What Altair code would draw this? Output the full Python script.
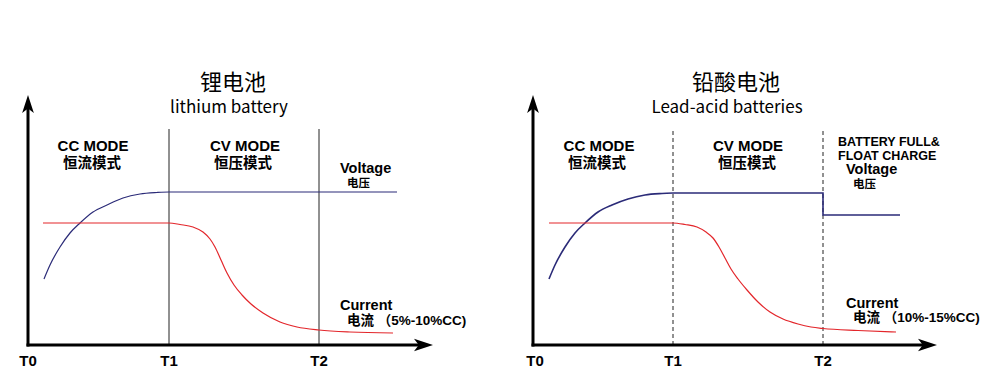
import altair as alt
import pandas as pd

# ---------------- data (time units: T0=0, T1=14, T2=29; relative level units) ----------------
T_NAMES = ["T0", "T1", "T2"]
LI_T_POS = [0.0, 14.1, 29.1]
PB_T_POS = [0.2, 14.0, 29.0]

# lithium battery
LI_V_X = [1.6, 2.2, 3.2, 4.2, 5.2, 6.5, 7.9, 9.5, 11.2, 12.9, 14.1, 36.9]
LI_V_Y = [6.6, 8.0, 9.8, 11.2, 12.2, 13.3, 14.0, 14.7, 15.1, 15.25, 15.3, 15.3]
LI_I_X = [1.5, 14.1, 15.2, 16.5, 17.5, 18.2, 18.7, 19.3, 19.9, 20.6, 21.4, 22.3, 23.5, 25.2,
          26.9, 29.1, 32.2, 36.5]
LI_I_Y = [12.2, 12.2, 12.05, 11.8, 11.3, 10.6, 9.8, 8.5, 7.2, 6.0, 5.0, 4.1, 3.2, 2.3,
          1.8, 1.5, 1.3, 1.2]

# lead-acid batteries
PB_V_X = [1.6, 2.2, 3.2, 4.2, 5.2, 6.5, 7.9, 9.5, 11.2, 12.9, 14.0]
PB_V_Y = [6.6, 8.0, 9.8, 11.2, 12.2, 13.3, 14.0, 14.6, 15.0, 15.15, 15.2]
PB_VSTEP_X = [14.0, 29.0, 29.0, 36.7]
PB_VSTEP_Y = [15.2, 15.2, 13.0, 13.0]
PB_I_X = [1.6, 14.0, 15.2, 16.4, 17.3, 18.0, 18.6, 19.2, 19.8, 20.5, 21.4, 22.5, 23.7, 25.0,
          26.5, 27.8, 29.0, 32.5, 36.3]
PB_I_Y = [12.2, 12.2, 12.05, 11.8, 11.3, 10.7, 9.8, 8.7, 7.6, 6.6, 5.5, 4.3, 3.3, 2.6,
          2.1, 1.8, 1.65, 1.45, 1.3]

LI_TITLE = ["锂电池", "lithium battery"]
PB_TITLE = ["铅酸电池", "Lead-acid batteries"]
MODES = ["CC MODE", "恒流模式", "CV MODE", "恒压模式"]
LI_RIGHT = ["Voltage", "电压", "Current", "电流 （5%-10%CC)"]
PB_RIGHT = ["Voltage", "电压", "Current", "电流 （10%-15%CC)"]
PB_FULL = ["BATTERY FULL&", "FLOAT CHARGE"]

# text anchor positions (time, level)
LI_TITLE_POS = [(20.5, 26.2), (20.1, 23.7)]
PB_TITLE_POS = [(20.3, 26.2), (19.4, 23.7)]
LI_MODE_POS = [(6.5, 19.9), (6.4, 18.1), (21.7, 19.9), (21.5, 18.1)]
PB_MODE_POS = [(6.6, 19.9), (6.4, 18.1), (21.5, 19.9), (21.4, 18.1)]
LI_RIGHT_POS = [(31.2, 17.6), (31.9, 16.15), (31.2, 3.9), (31.9, 2.45)]
PB_RIGHT_POS = [(31.3, 17.5), (32.0, 16.05), (31.3, 4.1), (32.0, 2.7)]
PB_FULL_POS = [(30.5, 20.35), (30.5, 18.95)]

V_COLOR = "#2b2b78"
I_COLOR = "#e3262b"
BOLD_FONT = "Liberation Sans, Noto Sans CJK SC"
CJK_FONT = "Noto Sans CJK SC"

W, H = 492, 375
Y_DOM = [-3.8, 33.7]


def panel(x_dom, t_pos, v_x, v_y, i_x, i_y, title, title_pos, mode_pos, right, right_pos,
          dashed, x_tip, v_width, vstep=None, full=None):
    xs = alt.Scale(domain=x_dom, nice=False, zero=False)
    ys = alt.Scale(domain=Y_DOM, nice=False, zero=False)
    X = lambda f: alt.X(f, type="quantitative", scale=xs, axis=None)
    Y = lambda f: alt.Y(f, type="quantitative", scale=ys, axis=None)

    layers = []
    # vertical time markers
    vl = pd.DataFrame({"x": t_pos[1:], "y": [0, 0], "y2": [21.6, 21.6]})
    layers.append(alt.Chart(vl).mark_rule(color="#222", strokeWidth=1,
                                            strokeDash=[4, 3] if dashed else [1, 0])
                  .encode(x=X("x"), y=Y("y"), y2="y2"))
    # axes lines
    ax = pd.DataFrame({"x": [0, 0], "x2": [x_tip - 1.5, 0], "y": [0, 0], "y2": [0, 23.6]})
    layers.append(alt.Chart(ax).mark_rule(color="black", strokeWidth=3, strokeCap="square")
                  .encode(x=X("x"), x2="x2", y=Y("y"), y2="y2"))
    # arrow heads
    arx = pd.DataFrame({"x": [x_tip - 0.95], "y": [0]})
    layers.append(alt.Chart(arx).mark_point(shape="M1,0L-1,-0.65L-0.5,0L-1,0.65Z", size=361,
                                             filled=True, color="black", opacity=1)
                  .encode(x=X("x"), y=Y("y")))
    ary = pd.DataFrame({"x": [0], "y": [24.1]})
    layers.append(alt.Chart(ary).mark_point(shape="M0,-1L-0.65,1L0,0.5L0.65,1Z", size=324,
                                             filled=True, color="black", opacity=1)
                  .encode(x=X("x"), y=Y("y")))
    # voltage curve
    vd = pd.DataFrame({"x": v_x, "y": v_y})
    layers.append(alt.Chart(vd).mark_line(color=V_COLOR, strokeWidth=v_width,
                                          interpolate="monotone")
                  .encode(x=X("x"), y=Y("y")))
    if vstep is not None:
        sd = pd.DataFrame({"x": vstep[0], "y": vstep[1], "o": list(range(len(vstep[0])))})
        layers.append(alt.Chart(sd).mark_line(color=V_COLOR, strokeWidth=1.6)
                      .encode(x=X("x"), y=Y("y"), order="o:Q"))
    # current curve
    idf = pd.DataFrame({"x": i_x, "y": i_y})
    layers.append(alt.Chart(idf).mark_line(color=I_COLOR, strokeWidth=1.2, interpolate="monotone")
                  .encode(x=X("x"), y=Y("y")))

    # texts
    def txt(labels, pos, **kw):
        df = pd.DataFrame({"t": labels, "x": [p[0] for p in pos], "y": [p[1] for p in pos]})
        return alt.Chart(df).mark_text(baseline="middle", color="black", **kw).encode(
            x=X("x"), y=Y("y"), text="t:N")

    layers.append(txt([title[0]], [title_pos[0]], font=CJK_FONT, fontSize=22, align="center"))
    layers.append(txt([title[1]], [title_pos[1]], font=CJK_FONT, fontSize=17, align="center"))
    layers.append(txt([MODES[0], MODES[2]], [mode_pos[0], mode_pos[2]], font=BOLD_FONT,
                      fontSize=15, fontWeight="bold", align="center"))
    layers.append(txt([MODES[1], MODES[3]], [mode_pos[1], mode_pos[3]], font=CJK_FONT,
                      fontSize=14.5, fontWeight="bold", align="center"))
    layers.append(txt([right[0], right[2]], [right_pos[0], right_pos[2]], font=BOLD_FONT,
                      fontSize=14.5, fontWeight="bold", align="left"))
    layers.append(txt([right[1]], [right_pos[1]], font=CJK_FONT,
                      fontSize=11.5, fontWeight="bold", align="left"))
    layers.append(txt([right[3]], [right_pos[3]], font=BOLD_FONT,
                      fontSize=13.5, fontWeight="bold", align="left"))
    if full is not None:
        layers.append(txt(full[0], full[1], font=BOLD_FONT, fontSize=12.5,
                          fontWeight="bold", align="left"))
    layers.append(txt(T_NAMES, [(t, -1.6) for t in t_pos], font=BOLD_FONT, fontSize=15,
                      fontWeight="bold", align="center"))

    return alt.layer(*layers).properties(width=W, height=H)


left = panel([-2.0, 47.2], LI_T_POS, LI_V_X, LI_V_Y, LI_I_X, LI_I_Y, LI_TITLE, LI_TITLE_POS,
             LI_MODE_POS, LI_RIGHT, LI_RIGHT_POS, dashed=False, x_tip=40.5, v_width=1.2)
right = panel([-3.3, 45.9], PB_T_POS, PB_V_X, PB_V_Y, PB_I_X, PB_I_Y, PB_TITLE, PB_TITLE_POS,
              PB_MODE_POS, PB_RIGHT, PB_RIGHT_POS, dashed=True, x_tip=40.4, v_width=1.6,
              vstep=(PB_VSTEP_X, PB_VSTEP_Y), full=(PB_FULL, PB_FULL_POS))

chart = alt.hconcat(left, right, spacing=0).resolve_scale(x="independent", y="independent") \
    .properties(padding=0, background="white").configure_view(stroke=None)

chart.save("out.html", embed_options={"renderer": "svg", "actions": False})
